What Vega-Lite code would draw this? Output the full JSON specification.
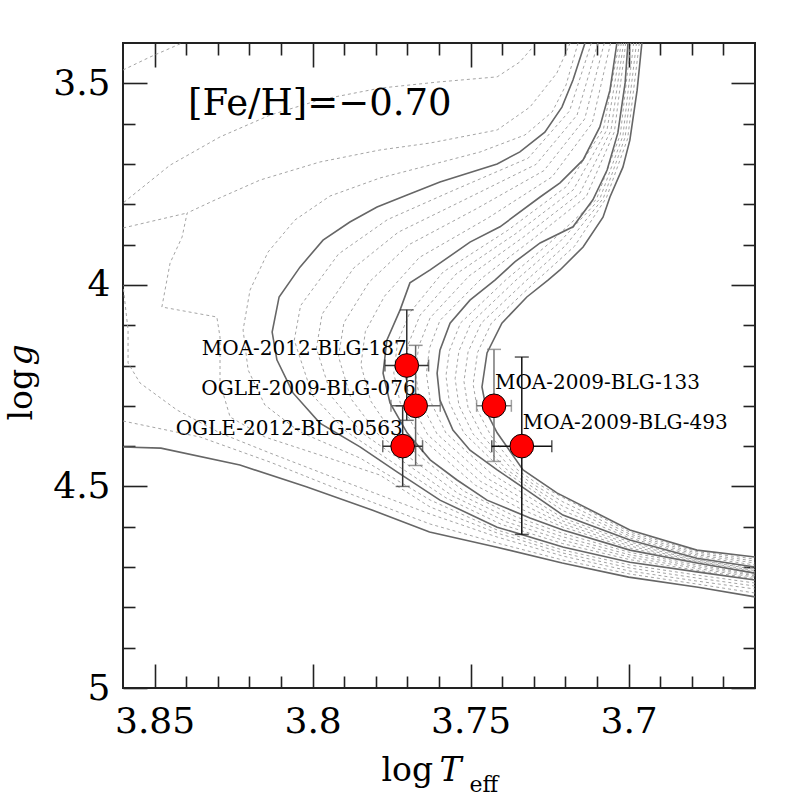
{
  "$schema": "https://vega.github.io/schema/vega-lite/v6.json",
  "width": 632,
  "height": 645,
  "autosize": "none",
  "padding": {"left": 123, "top": 43, "right": 42, "bottom": 109},
  "background": "white",
  "config": {
    "view": {"stroke": "#222", "strokeWidth": 2},
    "axis": {"grid": false, "domain": false, "tickColor": "#222", "tickWidth": 1.6, "labelFont": "DejaVu Serif", "labelFontSize": 36, "labelColor": "#000", "labelFlush": false, "labelOverlap": false, "titleFont": "DejaVu Serif", "titleFontWeight": "normal", "titleColor": "#000", "titleFontSize": 33}
  },
  "datasets": {
    "solid": [
      {"c": "Z", "i": 0, "t": 3.86, "g": 4.402}, {"c": "Z", "i": 1, "t": 3.848, "g": 4.405}, {"c": "Z", "i": 2, "t": 3.823, "g": 4.447}, {"c": "Z", "i": 3, "t": 3.802, "g": 4.501}, {"c": "Z", "i": 4, "t": 3.781, "g": 4.559}, {"c": "Z", "i": 5, "t": 3.763, "g": 4.613}, {"c": "Z", "i": 6, "t": 3.742, "g": 4.65}, {"c": "Z", "i": 7, "t": 3.721, "g": 4.69}, {"c": "Z", "i": 8, "t": 3.7, "g": 4.725}, {"c": "Z", "i": 9, "t": 3.678, "g": 4.75}, {"c": "Z", "i": 10, "t": 3.66, "g": 4.774},
      {"c": "S1", "i": 0, "t": 3.7138, "g": 3.4}, {"c": "S1", "i": 1, "t": 3.7176, "g": 3.492}, {"c": "S1", "i": 2, "t": 3.7211, "g": 3.559}, {"c": "S1", "i": 3, "t": 3.7265, "g": 3.621}, {"c": "S1", "i": 4, "t": 3.7344, "g": 3.67}, {"c": "S1", "i": 5, "t": 3.7416, "g": 3.7}, {"c": "S1", "i": 6, "t": 3.7597, "g": 3.745}, {"c": "S1", "i": 7, "t": 3.7701, "g": 3.777}, {"c": "S1", "i": 8, "t": 3.7796, "g": 3.807}, {"c": "S1", "i": 9, "t": 3.7882, "g": 3.844}, {"c": "S1", "i": 10, "t": 3.7967, "g": 3.889}, {"c": "S1", "i": 11, "t": 3.804, "g": 3.956}, {"c": "S1", "i": 12, "t": 3.8106, "g": 4.03}, {"c": "S1", "i": 13, "t": 3.8128, "g": 4.117}, {"c": "S1", "i": 14, "t": 3.8113, "g": 4.186}, {"c": "S1", "i": 15, "t": 3.8062, "g": 4.268}, {"c": "S1", "i": 16, "t": 3.7977, "g": 4.343}, {"c": "S1", "i": 17, "t": 3.785, "g": 4.402}, {"c": "S1", "i": 18, "t": 3.7733, "g": 4.464}, {"c": "S1", "i": 19, "t": 3.7597, "g": 4.534}, {"c": "S1", "i": 20, "t": 3.7416, "g": 4.601}, {"c": "S1", "i": 21, "t": 3.7208, "g": 4.65}, {"c": "S1", "i": 22, "t": 3.6996, "g": 4.688}, {"c": "S1", "i": 23, "t": 3.6784, "g": 4.712}, {"c": "S1", "i": 24, "t": 3.66, "g": 4.732},
      {"c": "S2", "i": 0, "t": 3.7037, "g": 3.4}, {"c": "S2", "i": 1, "t": 3.7059, "g": 3.517}, {"c": "S2", "i": 2, "t": 3.7091, "g": 3.608}, {"c": "S2", "i": 3, "t": 3.7144, "g": 3.69}, {"c": "S2", "i": 4, "t": 3.7217, "g": 3.747}, {"c": "S2", "i": 5, "t": 3.728, "g": 3.782}, {"c": "S2", "i": 6, "t": 3.7407, "g": 3.856}, {"c": "S2", "i": 7, "t": 3.7502, "g": 3.894}, {"c": "S2", "i": 8, "t": 3.7628, "g": 3.963}, {"c": "S2", "i": 9, "t": 3.7692, "g": 3.995}, {"c": "S2", "i": 10, "t": 3.7723, "g": 4.062}, {"c": "S2", "i": 11, "t": 3.7765, "g": 4.137}, {"c": "S2", "i": 12, "t": 3.7777, "g": 4.219}, {"c": "S2", "i": 13, "t": 3.7755, "g": 4.293}, {"c": "S2", "i": 14, "t": 3.7701, "g": 4.367}, {"c": "S2", "i": 15, "t": 3.7628, "g": 4.434}, {"c": "S2", "i": 16, "t": 3.7543, "g": 4.484}, {"c": "S2", "i": 17, "t": 3.7448, "g": 4.534}, {"c": "S2", "i": 18, "t": 3.7312, "g": 4.578}, {"c": "S2", "i": 19, "t": 3.7208, "g": 4.608}, {"c": "S2", "i": 20, "t": 3.6996, "g": 4.658}, {"c": "S2", "i": 21, "t": 3.6784, "g": 4.69}, {"c": "S2", "i": 22, "t": 3.66, "g": 4.715},
      {"c": "S3", "i": 0, "t": 3.7002, "g": 3.4}, {"c": "S3", "i": 1, "t": 3.7011, "g": 3.499}, {"c": "S3", "i": 2, "t": 3.7034, "g": 3.623}, {"c": "S3", "i": 3, "t": 3.7068, "g": 3.715}, {"c": "S3", "i": 4, "t": 3.7113, "g": 3.789}, {"c": "S3", "i": 5, "t": 3.7176, "g": 3.856}, {"c": "S3", "i": 6, "t": 3.728, "g": 3.896}, {"c": "S3", "i": 7, "t": 3.736, "g": 3.943}, {"c": "S3", "i": 8, "t": 3.7423, "g": 3.988}, {"c": "S3", "i": 9, "t": 3.7502, "g": 4.038}, {"c": "S3", "i": 10, "t": 3.7565, "g": 4.095}, {"c": "S3", "i": 11, "t": 3.7597, "g": 4.162}, {"c": "S3", "i": 12, "t": 3.7606, "g": 4.219}, {"c": "S3", "i": 13, "t": 3.7597, "g": 4.286}, {"c": "S3", "i": 14, "t": 3.7556, "g": 4.36}, {"c": "S3", "i": 15, "t": 3.7502, "g": 4.41}, {"c": "S3", "i": 16, "t": 3.7416, "g": 4.459}, {"c": "S3", "i": 17, "t": 3.7322, "g": 4.509}, {"c": "S3", "i": 18, "t": 3.7208, "g": 4.571}, {"c": "S3", "i": 19, "t": 3.6996, "g": 4.633}, {"c": "S3", "i": 20, "t": 3.6784, "g": 4.678}, {"c": "S3", "i": 21, "t": 3.66, "g": 4.7},
      {"c": "S4", "i": 0, "t": 3.6958, "g": 3.4}, {"c": "S4", "i": 1, "t": 3.6973, "g": 3.517}, {"c": "S4", "i": 2, "t": 3.6996, "g": 3.641}, {"c": "S4", "i": 3, "t": 3.7018, "g": 3.708}, {"c": "S4", "i": 4, "t": 3.7059, "g": 3.782}, {"c": "S4", "i": 5, "t": 3.7081, "g": 3.832}, {"c": "S4", "i": 6, "t": 3.7144, "g": 3.906}, {"c": "S4", "i": 7, "t": 3.7217, "g": 3.963}, {"c": "S4", "i": 8, "t": 3.7255, "g": 3.988}, {"c": "S4", "i": 9, "t": 3.7322, "g": 4.03}, {"c": "S4", "i": 10, "t": 3.7401, "g": 4.095}, {"c": "S4", "i": 11, "t": 3.7448, "g": 4.169}, {"c": "S4", "i": 12, "t": 3.7464, "g": 4.253}, {"c": "S4", "i": 13, "t": 3.7448, "g": 4.318}, {"c": "S4", "i": 14, "t": 3.7416, "g": 4.367}, {"c": "S4", "i": 15, "t": 3.7334, "g": 4.459}, {"c": "S4", "i": 16, "t": 3.7227, "g": 4.516}, {"c": "S4", "i": 17, "t": 3.6996, "g": 4.608}, {"c": "S4", "i": 18, "t": 3.6784, "g": 4.658}, {"c": "S4", "i": 19, "t": 3.66, "g": 4.675}
    ],
    "dotted": [
      {"c": "Da", "i": 0, "t": 3.86, "g": 3.467}, {"c": "Da", "i": 1, "t": 3.8515, "g": 3.435}, {"c": "Da", "i": 2, "t": 3.8413, "g": 3.4},
      {"c": "Db", "i": -1, "t": 3.8641, "g": 3.8242}, {"c": "Db", "i": 0, "t": 3.86, "g": 3.797}, {"c": "Db", "i": 1, "t": 3.8451, "g": 3.703}, {"c": "Db", "i": 2, "t": 3.8293, "g": 3.633}, {"c": "Db", "i": 3, "t": 3.8135, "g": 3.579}, {"c": "Db", "i": 4, "t": 3.7977, "g": 3.541}, {"c": "Db", "i": 5, "t": 3.7787, "g": 3.512}, {"c": "Db", "i": 6, "t": 3.7606, "g": 3.497}, {"c": "Db", "i": 7, "t": 3.7416, "g": 3.484}, {"c": "Db", "i": 8, "t": 3.7344, "g": 3.447}, {"c": "Db", "i": 9, "t": 3.7303, "g": 3.41},
      {"c": "L1", "i": 0, "t": 3.716, "g": 3.4}, {"c": "L1", "i": 1, "t": 3.7198, "g": 3.5042}, {"c": "L1", "i": 2, "t": 3.7242, "g": 3.5712}, {"c": "L1", "i": 3, "t": 3.7328, "g": 3.6282}, {"c": "L1", "i": 4, "t": 3.747, "g": 3.6704}, {"c": "L1", "i": 5, "t": 3.7628, "g": 3.7027}, {"c": "L1", "i": 6, "t": 3.7787, "g": 3.7349}, {"c": "L1", "i": 7, "t": 3.7945, "g": 3.7796}, {"c": "L1", "i": 8, "t": 3.8056, "g": 3.8391}, {"c": "L1", "i": 9, "t": 3.8141, "g": 3.9185}, {"c": "L1", "i": 10, "t": 3.8198, "g": 4.0128}, {"c": "L1", "i": 11, "t": 3.822, "g": 4.112}, {"c": "L1", "i": 12, "t": 3.8204, "g": 4.2112}, {"c": "L1", "i": 13, "t": 3.8151, "g": 4.298}, {"c": "L1", "i": 14, "t": 3.804, "g": 4.365}, {"c": "L1", "i": 15, "t": 3.785, "g": 4.4295}, {"c": "L1", "i": 16, "t": 3.7628, "g": 4.5337}, {"c": "L1", "i": 17, "t": 3.7416, "g": 4.6081}, {"c": "L1", "i": 18, "t": 3.7208, "g": 4.6578}, {"c": "L1", "i": 19, "t": 3.6996, "g": 4.695}, {"c": "L1", "i": 20, "t": 3.6784, "g": 4.7198}, {"c": "L1", "i": 21, "t": 3.66, "g": 4.7396},
      {"c": "L2", "i": 0, "t": 3.7185, "g": 3.4}, {"c": "L2", "i": 1, "t": 3.7227, "g": 3.4744}, {"c": "L2", "i": 2, "t": 3.7312, "g": 3.5588}, {"c": "L2", "i": 3, "t": 3.7416, "g": 3.6158}, {"c": "L2", "i": 4, "t": 3.7628, "g": 3.6481}, {"c": "L2", "i": 5, "t": 3.7787, "g": 3.6654}, {"c": "L2", "i": 6, "t": 3.7977, "g": 3.6952}, {"c": "L2", "i": 7, "t": 3.8166, "g": 3.7399}, {"c": "L2", "i": 8, "t": 3.8309, "g": 3.7895}, {"c": "L2", "i": 9, "t": 3.8397, "g": 3.8217}, {"c": "L2", "i": 10, "t": 3.8413, "g": 3.8813}, {"c": "L2", "i": 11, "t": 3.8451, "g": 3.9458}, {"c": "L2", "i": 12, "t": 3.8477, "g": 4.0549}, {"c": "L2", "i": 13, "t": 3.8303, "g": 4.0797}, {"c": "L2", "i": 14, "t": 3.8293, "g": 4.1294}, {"c": "L2", "i": 15, "t": 3.8293, "g": 4.2435}, {"c": "L2", "i": 16, "t": 3.8261, "g": 4.3278}, {"c": "L2", "i": 17, "t": 3.8151, "g": 4.3774}, {"c": "L2", "i": 18, "t": 3.7977, "g": 4.4221}, {"c": "L2", "i": 19, "t": 3.7787, "g": 4.4717}, {"c": "L2", "i": 20, "t": 3.7628, "g": 4.5511}, {"c": "L2", "i": 21, "t": 3.7416, "g": 4.6156}, {"c": "L2", "i": 22, "t": 3.7208, "g": 4.6652}, {"c": "L2", "i": 23, "t": 3.6996, "g": 4.7024}, {"c": "L2", "i": 24, "t": 3.6784, "g": 4.7272}, {"c": "L2", "i": 25, "t": 3.66, "g": 4.7471},
      {"c": "L3", "i": 0, "t": 3.8641, "g": 3.9631}, {"c": "L3", "i": 1, "t": 3.86, "g": 4.0004}, {"c": "L3", "i": 2, "t": 3.8584, "g": 4.112}, {"c": "L3", "i": 3, "t": 3.8584, "g": 4.1939}, {"c": "L3", "i": 4, "t": 3.8546, "g": 4.2435}, {"c": "L3", "i": 5, "t": 3.8429, "g": 4.3105}, {"c": "L3", "i": 6, "t": 3.8293, "g": 4.3675}, {"c": "L3", "i": 7, "t": 3.8135, "g": 4.4171}, {"c": "L3", "i": 8, "t": 3.7913, "g": 4.4841}, {"c": "L3", "i": 9, "t": 3.7628, "g": 4.5685}, {"c": "L3", "i": 10, "t": 3.7416, "g": 4.6255}, {"c": "L3", "i": 11, "t": 3.7208, "g": 4.6727}, {"c": "L3", "i": 12, "t": 3.6996, "g": 4.7099}, {"c": "L3", "i": 13, "t": 3.6784, "g": 4.7347}, {"c": "L3", "i": 14, "t": 3.66, "g": 4.7545},
      {"c": "L4", "i": 0, "t": 3.8673, "g": 3.8738}, {"c": "L4", "i": 1, "t": 3.86, "g": 3.8589}, {"c": "L4", "i": 2, "t": 3.8397, "g": 3.8217},
      {"c": "L5", "i": 0, "t": 3.86, "g": 4.3377}, {"c": "L5", "i": 1, "t": 3.8356, "g": 4.3774}, {"c": "L5", "i": 2, "t": 3.8135, "g": 4.4395}, {"c": "L5", "i": 3, "t": 3.7913, "g": 4.5089}, {"c": "L5", "i": 4, "t": 3.7628, "g": 4.5933}, {"c": "L5", "i": 5, "t": 3.7416, "g": 4.6404}, {"c": "L5", "i": 6, "t": 3.7208, "g": 4.6826}, {"c": "L5", "i": 7, "t": 3.6996, "g": 4.7173}, {"c": "L5", "i": 8, "t": 3.6784, "g": 4.7421}, {"c": "L5", "i": 9, "t": 3.66, "g": 4.7644},
      {"c": "A1", "i": 0, "t": 3.7118, "g": 3.4}, {"c": "A1", "i": 1, "t": 3.7187, "g": 3.5687}, {"c": "A1", "i": 2, "t": 3.7318, "g": 3.6858}, {"c": "A1", "i": 3, "t": 3.7559, "g": 3.7672}, {"c": "A1", "i": 4, "t": 3.7763, "g": 3.8381}, {"c": "A1", "i": 5, "t": 3.7918, "g": 3.9234}, {"c": "A1", "i": 6, "t": 3.8038, "g": 4.0515}, {"c": "A1", "i": 7, "t": 3.8058, "g": 4.1373}, {"c": "A1", "i": 8, "t": 3.8001, "g": 4.2732}, {"c": "A1", "i": 9, "t": 3.7894, "g": 4.3635}, {"c": "A1", "i": 10, "t": 3.7578, "g": 4.5283}, {"c": "A1", "i": 11, "t": 3.7402, "g": 4.5943}, {"c": "A1", "i": 12, "t": 3.7208, "g": 4.6419}, {"c": "A1", "i": 13, "t": 3.6996, "g": 4.6816}, {"c": "A1", "i": 14, "t": 3.6784, "g": 4.7079}, {"c": "A1", "i": 15, "t": 3.66, "g": 4.7287},
      {"c": "A2", "i": 0, "t": 3.7097, "g": 3.4}, {"c": "A2", "i": 1, "t": 3.7163, "g": 3.5786}, {"c": "A2", "i": 2, "t": 3.7293, "g": 3.7012}, {"c": "A2", "i": 3, "t": 3.7521, "g": 3.7895}, {"c": "A2", "i": 4, "t": 3.7729, "g": 3.8694}, {"c": "A2", "i": 5, "t": 3.787, "g": 3.9582}, {"c": "A2", "i": 6, "t": 3.797, "g": 4.0728}, {"c": "A2", "i": 7, "t": 3.7988, "g": 4.1576}, {"c": "A2", "i": 8, "t": 3.7939, "g": 4.2782}, {"c": "A2", "i": 9, "t": 3.7844, "g": 4.367}, {"c": "A2", "i": 10, "t": 3.7559, "g": 4.5228}, {"c": "A2", "i": 11, "t": 3.7387, "g": 4.5878}, {"c": "A2", "i": 12, "t": 3.7208, "g": 4.6335}, {"c": "A2", "i": 13, "t": 3.6996, "g": 4.6756}, {"c": "A2", "i": 14, "t": 3.6784, "g": 4.7034}, {"c": "A2", "i": 15, "t": 3.66, "g": 4.7252},
      {"c": "A3", "i": 0, "t": 3.7077, "g": 3.4}, {"c": "A3", "i": 1, "t": 3.7139, "g": 3.5885}, {"c": "A3", "i": 2, "t": 3.7268, "g": 3.7166}, {"c": "A3", "i": 3, "t": 3.7483, "g": 3.8118}, {"c": "A3", "i": 4, "t": 3.7696, "g": 3.9006}, {"c": "A3", "i": 5, "t": 3.7821, "g": 3.9929}, {"c": "A3", "i": 6, "t": 3.7901, "g": 4.0941}, {"c": "A3", "i": 7, "t": 3.7918, "g": 4.178}, {"c": "A3", "i": 8, "t": 3.7878, "g": 4.2832}, {"c": "A3", "i": 9, "t": 3.7793, "g": 4.3705}, {"c": "A3", "i": 10, "t": 3.754, "g": 4.5173}, {"c": "A3", "i": 11, "t": 3.7373, "g": 4.5813}, {"c": "A3", "i": 12, "t": 3.7208, "g": 4.625}, {"c": "A3", "i": 13, "t": 3.6996, "g": 4.6697}, {"c": "A3", "i": 14, "t": 3.6784, "g": 4.6989}, {"c": "A3", "i": 15, "t": 3.66, "g": 4.7218},
      {"c": "A4", "i": 0, "t": 3.7057, "g": 3.4}, {"c": "A4", "i": 1, "t": 3.7115, "g": 3.5985}, {"c": "A4", "i": 2, "t": 3.7242, "g": 3.7319}, {"c": "A4", "i": 3, "t": 3.7445, "g": 3.8341}, {"c": "A4", "i": 4, "t": 3.7662, "g": 3.9319}, {"c": "A4", "i": 5, "t": 3.7772, "g": 4.0276}, {"c": "A4", "i": 6, "t": 3.7833, "g": 4.1155}, {"c": "A4", "i": 7, "t": 3.7847, "g": 4.1983}, {"c": "A4", "i": 8, "t": 3.7816, "g": 4.2881}, {"c": "A4", "i": 9, "t": 3.7742, "g": 4.374}, {"c": "A4", "i": 10, "t": 3.7521, "g": 4.5119}, {"c": "A4", "i": 11, "t": 3.7358, "g": 4.5749}, {"c": "A4", "i": 12, "t": 3.7208, "g": 4.6166}, {"c": "A4", "i": 13, "t": 3.6996, "g": 4.6637}, {"c": "A4", "i": 14, "t": 3.6784, "g": 4.6945}, {"c": "A4", "i": 15, "t": 3.66, "g": 4.7183},
      {"c": "B1", "i": 0, "t": 3.703, "g": 3.4}, {"c": "B1", "i": 1, "t": 3.7079, "g": 3.6114}, {"c": "B1", "i": 2, "t": 3.7196, "g": 3.7557}, {"c": "B1", "i": 3, "t": 3.7382, "g": 3.8644}, {"c": "B1", "i": 4, "t": 3.7587, "g": 3.9681}, {"c": "B1", "i": 5, "t": 3.7692, "g": 4.0688}, {"c": "B1", "i": 6, "t": 3.7731, "g": 4.1418}, {"c": "B1", "i": 7, "t": 3.7743, "g": 4.2187}, {"c": "B1", "i": 8, "t": 3.7723, "g": 4.2916}, {"c": "B1", "i": 9, "t": 3.7663, "g": 4.375}, {"c": "B1", "i": 10, "t": 3.7485, "g": 4.497}, {"c": "B1", "i": 11, "t": 3.7339, "g": 4.5566}, {"c": "B1", "i": 12, "t": 3.7208, "g": 4.6007}, {"c": "B1", "i": 13, "t": 3.6996, "g": 4.6528}, {"c": "B1", "i": 14, "t": 3.6784, "g": 4.6875}, {"c": "B1", "i": 15, "t": 3.66, "g": 4.7119},
      {"c": "B2", "i": 0, "t": 3.7023, "g": 3.4}, {"c": "B2", "i": 1, "t": 3.7068, "g": 3.6143}, {"c": "B2", "i": 2, "t": 3.7175, "g": 3.7642}, {"c": "B2", "i": 3, "t": 3.7356, "g": 3.8723}, {"c": "B2", "i": 4, "t": 3.7546, "g": 3.9731}, {"c": "B2", "i": 5, "t": 3.766, "g": 4.0753}, {"c": "B2", "i": 6, "t": 3.7697, "g": 4.1467}, {"c": "B2", "i": 7, "t": 3.7709, "g": 4.2187}, {"c": "B2", "i": 8, "t": 3.7692, "g": 4.2901}, {"c": "B2", "i": 9, "t": 3.7635, "g": 4.3725}, {"c": "B2", "i": 10, "t": 3.7468, "g": 4.4876}, {"c": "B2", "i": 11, "t": 3.7335, "g": 4.5446}, {"c": "B2", "i": 12, "t": 3.7208, "g": 4.5933}, {"c": "B2", "i": 13, "t": 3.6996, "g": 4.6478}, {"c": "B2", "i": 14, "t": 3.6784, "g": 4.685}, {"c": "B2", "i": 15, "t": 3.66, "g": 4.7089},
      {"c": "B3", "i": 0, "t": 3.7016, "g": 3.4}, {"c": "B3", "i": 1, "t": 3.7056, "g": 3.6173}, {"c": "B3", "i": 2, "t": 3.7154, "g": 3.7726}, {"c": "B3", "i": 3, "t": 3.7331, "g": 3.8803}, {"c": "B3", "i": 4, "t": 3.7505, "g": 3.978}, {"c": "B3", "i": 5, "t": 3.7628, "g": 4.0817}, {"c": "B3", "i": 6, "t": 3.7664, "g": 4.1517}, {"c": "B3", "i": 7, "t": 3.7675, "g": 4.2187}, {"c": "B3", "i": 8, "t": 3.766, "g": 4.2886}, {"c": "B3", "i": 9, "t": 3.7606, "g": 4.37}, {"c": "B3", "i": 10, "t": 3.7451, "g": 4.4782}, {"c": "B3", "i": 11, "t": 3.733, "g": 4.5327}, {"c": "B3", "i": 12, "t": 3.7208, "g": 4.5858}, {"c": "B3", "i": 13, "t": 3.6996, "g": 4.6429}, {"c": "B3", "i": 14, "t": 3.6784, "g": 4.6826}, {"c": "B3", "i": 15, "t": 3.66, "g": 4.7059},
      {"c": "B4", "i": 0, "t": 3.7009, "g": 3.4}, {"c": "B4", "i": 1, "t": 3.7045, "g": 3.6203}, {"c": "B4", "i": 2, "t": 3.7134, "g": 3.781}, {"c": "B4", "i": 3, "t": 3.7306, "g": 3.8882}, {"c": "B4", "i": 4, "t": 3.7464, "g": 3.983}, {"c": "B4", "i": 5, "t": 3.7597, "g": 4.0882}, {"c": "B4", "i": 6, "t": 3.763, "g": 4.1566}, {"c": "B4", "i": 7, "t": 3.764, "g": 4.2187}, {"c": "B4", "i": 8, "t": 3.7628, "g": 4.2871}, {"c": "B4", "i": 9, "t": 3.7578, "g": 4.3675}, {"c": "B4", "i": 10, "t": 3.7434, "g": 4.4687}, {"c": "B4", "i": 11, "t": 3.7326, "g": 4.5208}, {"c": "B4", "i": 12, "t": 3.7208, "g": 4.5784}, {"c": "B4", "i": 13, "t": 3.6996, "g": 4.6379}, {"c": "B4", "i": 14, "t": 3.6784, "g": 4.6801}, {"c": "B4", "i": 15, "t": 3.66, "g": 4.7029},
      {"c": "C1", "i": 0, "t": 3.6993, "g": 3.4}, {"c": "C1", "i": 1, "t": 3.7026, "g": 3.6267}, {"c": "C1", "i": 2, "t": 3.7102, "g": 3.788}, {"c": "C1", "i": 3, "t": 3.7253, "g": 3.8981}, {"c": "C1", "i": 4, "t": 3.7389, "g": 3.9879}, {"c": "C1", "i": 5, "t": 3.7532, "g": 4.0946}, {"c": "C1", "i": 6, "t": 3.7567, "g": 4.1631}, {"c": "C1", "i": 7, "t": 3.7578, "g": 4.2256}, {"c": "C1", "i": 8, "t": 3.7567, "g": 4.2921}, {"c": "C1", "i": 9, "t": 3.7521, "g": 4.3675}, {"c": "C1", "i": 10, "t": 3.74, "g": 4.4593}, {"c": "C1", "i": 11, "t": 3.7313, "g": 4.505}, {"c": "C1", "i": 12, "t": 3.7208, "g": 4.56}, {"c": "C1", "i": 13, "t": 3.6996, "g": 4.628}, {"c": "C1", "i": 14, "t": 3.6784, "g": 4.6736}, {"c": "C1", "i": 15, "t": 3.66, "g": 4.695},
      {"c": "C2", "i": 0, "t": 3.6984, "g": 3.4}, {"c": "C2", "i": 1, "t": 3.7018, "g": 3.6302}, {"c": "C2", "i": 2, "t": 3.7091, "g": 3.7865}, {"c": "C2", "i": 3, "t": 3.7226, "g": 3.9001}, {"c": "C2", "i": 4, "t": 3.7356, "g": 3.9879}, {"c": "C2", "i": 5, "t": 3.7499, "g": 4.0946}, {"c": "C2", "i": 6, "t": 3.7537, "g": 4.1646}, {"c": "C2", "i": 7, "t": 3.7549, "g": 4.2326}, {"c": "C2", "i": 8, "t": 3.7537, "g": 4.2985}, {"c": "C2", "i": 9, "t": 3.7492, "g": 4.37}, {"c": "C2", "i": 10, "t": 3.7384, "g": 4.4593}, {"c": "C2", "i": 11, "t": 3.7305, "g": 4.501}, {"c": "C2", "i": 12, "t": 3.7208, "g": 4.5491}, {"c": "C2", "i": 13, "t": 3.6996, "g": 4.623}, {"c": "C2", "i": 14, "t": 3.6784, "g": 4.6697}, {"c": "C2", "i": 15, "t": 3.66, "g": 4.69},
      {"c": "C3", "i": 0, "t": 3.6975, "g": 3.4}, {"c": "C3", "i": 1, "t": 3.7011, "g": 3.6337}, {"c": "C3", "i": 2, "t": 3.708, "g": 3.785}, {"c": "C3", "i": 3, "t": 3.7199, "g": 3.9021}, {"c": "C3", "i": 4, "t": 3.7322, "g": 3.9879}, {"c": "C3", "i": 5, "t": 3.7466, "g": 4.0946}, {"c": "C3", "i": 6, "t": 3.7508, "g": 4.1661}, {"c": "C3", "i": 7, "t": 3.7521, "g": 4.2395}, {"c": "C3", "i": 8, "t": 3.7508, "g": 4.305}, {"c": "C3", "i": 9, "t": 3.7464, "g": 4.3725}, {"c": "C3", "i": 10, "t": 3.7367, "g": 4.4593}, {"c": "C3", "i": 11, "t": 3.7297, "g": 4.497}, {"c": "C3", "i": 12, "t": 3.7208, "g": 4.5382}, {"c": "C3", "i": 13, "t": 3.6996, "g": 4.6181}, {"c": "C3", "i": 14, "t": 3.6784, "g": 4.6657}, {"c": "C3", "i": 15, "t": 3.66, "g": 4.6851},
      {"c": "C4", "i": 0, "t": 3.6966, "g": 3.4}, {"c": "C4", "i": 1, "t": 3.7003, "g": 3.6372}, {"c": "C4", "i": 2, "t": 3.707, "g": 3.7835}, {"c": "C4", "i": 3, "t": 3.7171, "g": 3.9041}, {"c": "C4", "i": 4, "t": 3.7289, "g": 3.9879}, {"c": "C4", "i": 5, "t": 3.7434, "g": 4.0946}, {"c": "C4", "i": 6, "t": 3.7478, "g": 4.1676}, {"c": "C4", "i": 7, "t": 3.7492, "g": 4.2464}, {"c": "C4", "i": 8, "t": 3.7478, "g": 4.3114}, {"c": "C4", "i": 9, "t": 3.7435, "g": 4.375}, {"c": "C4", "i": 10, "t": 3.7351, "g": 4.4593}, {"c": "C4", "i": 11, "t": 3.7289, "g": 4.493}, {"c": "C4", "i": 12, "t": 3.7208, "g": 4.5273}, {"c": "C4", "i": 13, "t": 3.6996, "g": 4.6131}, {"c": "C4", "i": 14, "t": 3.6784, "g": 4.6617}, {"c": "C4", "i": 15, "t": 3.66, "g": 4.6801}
    ],
    "stars": [
      {"name": "MOA-2012-BLG-187", "t": 3.7702, "g": 4.2, "tlo": 3.7633, "thi": 3.7771, "glo": 4.062, "ghi": 4.336},
      {"name": "OGLE-2009-BLG-076", "t": 3.7674, "g": 4.3, "tlo": 3.7596, "thi": 3.7752, "glo": 4.15, "ghi": 4.448},
      {"name": "OGLE-2012-BLG-0563", "t": 3.7715, "g": 4.4, "tlo": 3.7652, "thi": 3.7778, "glo": 4.3, "ghi": 4.5},
      {"name": "MOA-2009-BLG-133", "t": 3.7426, "g": 4.3, "tlo": 3.7371, "thi": 3.7481, "glo": 4.16, "ghi": 4.438},
      {"name": "MOA-2009-BLG-493", "t": 3.7338, "g": 4.4, "tlo": 3.7243, "thi": 3.7433, "glo": 4.179, "ghi": 4.619}
    ],
    "ann": [{"label": "[Fe/H]=\u22120.70", "t": 3.8394, "g": 3.579}]
  },
  "layer": [
    {
      "data": {"name": "dotted"},
      "mark": {"type": "line", "color": "#9a9a9a", "strokeWidth": 0.9, "strokeDash": [3, 3], "clip": true},
      "encoding": {
        "x": {"field": "t", "type": "quantitative", "scale": {"domain": [3.66, 3.86], "reverse": true, "nice": false, "zero": false},
          "axis": {"orient": "bottom", "values": [3.67, 3.68, 3.69, 3.71, 3.72, 3.73, 3.74, 3.76, 3.77, 3.78, 3.79, 3.81, 3.82, 3.83, 3.84], "tickSize": -12, "labels": false, "title": null}},
        "y": {"field": "g", "type": "quantitative", "scale": {"domain": [3.4, 5], "reverse": true, "nice": false, "zero": false},
          "axis": {"orient": "left", "values": [3.6, 3.7, 3.8, 3.9, 4.1, 4.2, 4.3, 4.4, 4.6, 4.7, 4.8, 4.9], "tickSize": -12, "labels": false, "title": null}},
        "detail": {"field": "c"},
        "order": {"field": "i"}
      }
    },
    {
      "data": {"name": "solid"},
      "mark": {"type": "line", "color": "#666", "strokeWidth": 1.6, "clip": true},
      "encoding": {
        "x": {"field": "t", "type": "quantitative", "scale": {"domain": [3.66, 3.86], "reverse": true, "nice": false, "zero": false},
          "axis": {"orient": "bottom", "values": [3.85, 3.8, 3.75, 3.7], "tickSize": -24, "labelPadding": 40, "labelExpr": "datum.value + ''", "title": "log", "titleX": 258, "titleY": 92, "titleAlign": "left", "titleBaseline": "alphabetic"}},
        "y": {"field": "g", "type": "quantitative", "scale": {"domain": [3.4, 5], "reverse": true, "nice": false, "zero": false},
          "axis": {"orient": "left", "values": [3.5, 4, 4.5, 5], "tickSize": -24, "labelPadding": 37, "labelExpr": "datum.value + ''", "title": "log", "titleX": -92, "titleY": 377, "titleAngle": -90, "titleAlign": "left", "titleBaseline": "alphabetic"}},
        "detail": {"field": "c"},
        "order": {"field": "i"}
      }
    },
    {
      "data": {"name": "stars"},
      "mark": {"type": "text", "font": "DejaVu Serif", "fontSize": 20, "align": "right", "baseline": "alphabetic", "dy": -11, "color": "#000"},
      "transform": [{"filter": "indexof(datum.name, 'MOA-2009') < 0"}],
      "encoding": {
        "x": {"field": "t", "type": "quantitative", "axis": null},
        "y": {"field": "g", "type": "quantitative", "axis": null},
        "text": {"field": "name"}
      }
    },
    {
      "data": {"name": "stars"},
      "mark": {"type": "text", "font": "DejaVu Serif", "fontSize": 20, "align": "left", "baseline": "alphabetic", "dy": -17, "dx": 1, "color": "#000"},
      "transform": [{"filter": "indexof(datum.name, 'MOA-2009') >= 0"}],
      "encoding": {
        "x": {"field": "t", "type": "quantitative", "axis": null},
        "y": {"field": "g", "type": "quantitative", "axis": null},
        "text": {"field": "name"}
      }
    },
    {
      "data": {"name": "stars"},
      "mark": {"type": "rule", "strokeWidth": 1.5},
      "encoding": {
        "x": {"field": "t", "type": "quantitative", "scale": {"domain": [3.66, 3.86], "reverse": true, "nice": false, "zero": false},
          "axis": {"orient": "top", "values": [3.85, 3.8, 3.75, 3.7], "tickSize": -24, "labels": false, "title": "T", "titleFontStyle": "italic", "titleX": 316, "titleY": 737, "titleAlign": "left", "titleBaseline": "alphabetic"}},
        "y": {"field": "glo", "type": "quantitative", "scale": {"domain": [3.4, 5], "reverse": true, "nice": false, "zero": false},
          "axis": {"orient": "right", "values": [3.5, 4, 4.5, 5], "tickSize": -24, "labels": false, "title": "g", "titleFontStyle": "italic", "titleX": -724, "titleY": 322, "titleAngle": -90, "titleAlign": "left", "titleBaseline": "alphabetic"}},
        "y2": {"field": "ghi"},
        "color": {"field": "name", "type": "nominal", "legend": null, "scale": {"domain": ["MOA-2012-BLG-187", "OGLE-2009-BLG-076", "OGLE-2012-BLG-0563", "MOA-2009-BLG-133", "MOA-2009-BLG-493"], "range": ["#333", "#666", "#333", "#777", "#111"]}}
      }
    },
    {
      "data": {"name": "stars"},
      "mark": {"type": "rule", "strokeWidth": 1.5},
      "encoding": {
        "x": {"field": "tlo", "type": "quantitative", "scale": {"domain": [3.66, 3.86], "reverse": true, "nice": false, "zero": false},
          "axis": {"orient": "top", "values": [3.67, 3.68, 3.69, 3.71, 3.72, 3.73, 3.74, 3.76, 3.77, 3.78, 3.79, 3.81, 3.82, 3.83, 3.84], "tickSize": -12, "labels": false, "title": "eff", "titleFontSize": 22, "titleX": 346, "titleY": 748, "titleAlign": "left", "titleBaseline": "alphabetic"}},
        "x2": {"field": "thi"},
        "y": {"field": "g", "type": "quantitative", "scale": {"domain": [3.4, 5], "reverse": true, "nice": false, "zero": false},
          "axis": {"orient": "right", "values": [3.6, 3.7, 3.8, 3.9, 4.1, 4.2, 4.3, 4.4, 4.6, 4.7, 4.8, 4.9], "tickSize": -12, "labels": false, "title": null}},
        "color": {"field": "name", "type": "nominal", "legend": null}
      }
    },
    {
      "data": {"name": "stars"},
      "mark": {"type": "tick", "orient": "horizontal", "size": 14, "thickness": 1.5},
      "encoding": {
        "x": {"field": "t", "type": "quantitative", "axis": null},
        "y": {"field": "glo", "type": "quantitative", "axis": null},
        "color": {"field": "name", "type": "nominal", "legend": null}
      }
    },
    {
      "data": {"name": "stars"},
      "mark": {"type": "tick", "orient": "horizontal", "size": 14, "thickness": 1.5},
      "encoding": {
        "x": {"field": "t", "type": "quantitative", "axis": null},
        "y": {"field": "ghi", "type": "quantitative", "axis": null},
        "color": {"field": "name", "type": "nominal", "legend": null}
      }
    },
    {
      "data": {"name": "stars"},
      "mark": {"type": "tick", "orient": "vertical", "size": 12, "thickness": 1.5},
      "encoding": {
        "x": {"field": "tlo", "type": "quantitative", "axis": null},
        "y": {"field": "g", "type": "quantitative", "axis": null},
        "color": {"field": "name", "type": "nominal", "legend": null}
      }
    },
    {
      "data": {"name": "stars"},
      "mark": {"type": "tick", "orient": "vertical", "size": 12, "thickness": 1.5},
      "encoding": {
        "x": {"field": "thi", "type": "quantitative", "axis": null},
        "y": {"field": "g", "type": "quantitative", "axis": null},
        "color": {"field": "name", "type": "nominal", "legend": null}
      }
    },
    {
      "data": {"name": "stars"},
      "mark": {"type": "circle", "size": 560, "color": "#ff0000", "opacity": 1, "stroke": "#000", "strokeWidth": 1},
      "encoding": {
        "x": {"field": "t", "type": "quantitative", "axis": null},
        "y": {"field": "g", "type": "quantitative", "axis": null}
      }
    },
    {
      "data": {"name": "ann"},
      "mark": {"type": "text", "font": "DejaVu Serif", "fontSize": 37, "align": "left", "baseline": "alphabetic", "color": "#000"},
      "encoding": {
        "x": {"field": "t", "type": "quantitative", "axis": null},
        "y": {"field": "g", "type": "quantitative", "axis": null},
        "text": {"field": "label"}
      }
    }
  ],
  "resolve": {"axis": {"x": "independent", "y": "independent"}}
}
